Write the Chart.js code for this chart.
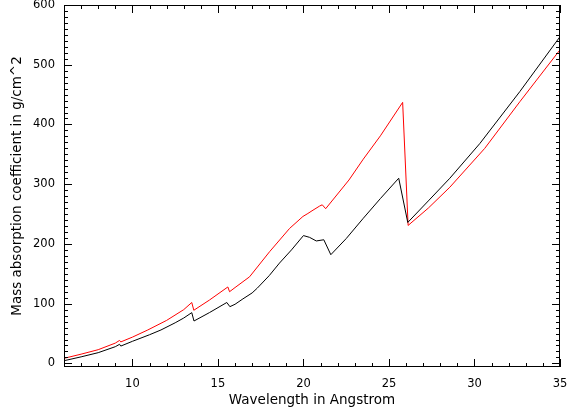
<!DOCTYPE html>
<html>
<head>
<meta charset="utf-8">
<script src="https://cdn.jsdelivr.net/npm/chart.js@4.4.1/dist/chart.umd.min.js"></script>
<style>
  html, body { margin: 0; padding: 0; background: #fff; }
  #wrap { width: 568px; height: 417px; }
</style>
</head>
<body>
<div id="wrap"><canvas id="absChart"></canvas></div>
<script>
// === Data ===
// black curve
const blackWave = [6.0, 7.0, 8.0, 9.0, 9.25, 9.32, 10.0, 11.0, 11.67, 12.5, 13.0, 13.47, 13.6, 14.5, 15.52, 15.7, 16.0, 16.46, 17.0, 17.3, 18.0, 18.6, 19.3, 20.0, 20.36, 20.75, 21.19, 21.6, 22.5, 23.5, 24.5, 25.57, 26.1, 27.3, 28.56, 30.31, 32.65, 35.0];
const blackCoef = [4.5, 11, 18, 28, 32, 29, 37, 48, 56, 68, 76, 85, 71, 85, 102, 95, 99, 108, 118, 126, 147, 168, 190, 214, 211, 205, 207, 182, 209, 243, 276, 310, 236, 272, 310, 368, 455, 547];

// red curve
const redWave = [6.0, 7.0, 8.0, 9.0, 9.25, 9.32, 10.0, 10.9, 12.0, 13.0, 13.47, 13.59, 14.5, 15.58, 15.68, 16.0, 16.85, 18.02, 19.19, 19.97, 20.26, 20.5, 20.95, 21.1, 21.3, 22.66, 23.5, 24.5, 25.8, 26.12, 27.3, 28.56, 30.6, 32.65, 35.0];
const redCoef = [8.5, 15.5, 23, 34, 38.5, 36, 44, 56, 72, 90, 102, 89, 106, 128, 120, 127, 145, 187, 226, 246, 251, 255.5, 263.5, 265.5, 259, 307, 342, 381, 437, 231, 260, 295, 360, 438, 525];

// tick labels
const xTicks = [10, 15, 20, 25, 30, 35];
const yTicks = [0, 100, 200, 300, 400, 500, 600];

const toPoints = (xs, ys) => xs.map((v, i) => ({ x: v, y: ys[i] }));

// IDL-style box with inward major/minor ticks on all four sides
const boxTicks = {
  id: "boxTicks",
  afterDraw(chart) {
    const { ctx, chartArea: a, scales } = chart;
    const sx = scales.x, sy = scales.y;
    ctx.save();
    ctx.strokeStyle = "#000";
    ctx.lineWidth = 1;
    ctx.strokeRect(a.left + 0.5, a.top + 0.5, a.right - a.left - 1, a.bottom - a.top - 1);
    ctx.beginPath();
    // x ticks every 1 unit, major every 5
    for (let v = Math.ceil(sx.min); v <= sx.max; v++) {
      const p = Math.round(sx.getPixelForValue(v)) + 0.5;
      const len = xTicks.includes(v) ? 8 : 4;
      ctx.moveTo(p, a.bottom); ctx.lineTo(p, a.bottom - len);
      ctx.moveTo(p, a.top); ctx.lineTo(p, a.top + len);
    }
    // y ticks every 10, major every 100
    for (let v = 0; v <= sy.max; v += 10) {
      const p = Math.round(sy.getPixelForValue(v)) + 0.5;
      const len = yTicks.includes(v) ? 8 : 4;
      ctx.moveTo(a.left, p); ctx.lineTo(a.left + len, p);
      ctx.moveTo(a.right, p); ctx.lineTo(a.right - len, p);
    }
    ctx.stroke();
    ctx.restore();
  },
};

const ctx = document.getElementById("absChart").getContext("2d");
new Chart(ctx, {
  type: "line",
  data: {
    datasets: [
      {
        data: toPoints(blackWave, blackCoef),
        borderColor: "#000000",
        borderWidth: 1,
        pointRadius: 0,
        tension: 0,
      },
      {
        data: toPoints(redWave, redCoef),
        borderColor: "#ff0000",
        borderWidth: 1,
        pointRadius: 0,
        tension: 0,
      },
    ],
  },
  options: {
    responsive: true,
    maintainAspectRatio: false,
    animation: false,
    events: [],
    layout: { padding: { top: 5, right: 8, left: 0, bottom: 0 }, autoPadding: false },
    plugins: { legend: { display: false }, tooltip: { enabled: false } },
    scales: {
      x: {
        type: "linear",
        min: 6,
        max: 35,
        afterBuildTicks: (s) => { s.ticks = xTicks.map((v) => ({ value: v })); },
        afterFit: (s) => { s.height = 50; s.paddingLeft = 0; s.paddingRight = 0; },
        grid: { display: false, drawTicks: false },
        border: { display: false },
        ticks: { color: "#000", padding: 10, maxRotation: 0, font: { family: "DejaVu Sans", size: 11.5 } },
        title: {
          display: true,
          text: "Wavelength in Angstrom",
          color: "#000",
          padding: { top: 8, bottom: 8 },
          font: { family: "DejaVu Sans", size: 13.5 },
        },
      },
      y: {
        min: -6,
        max: 600,
        afterBuildTicks: (s) => { s.ticks = yTicks.map((v) => ({ value: v })); },
        afterFit: (s) => { s.width = 64; s.paddingTop = 0; s.paddingBottom = 0; },
        grid: { display: false, drawTicks: false },
        border: { display: false },
        ticks: { color: "#000", padding: 9, font: { family: "DejaVu Sans", size: 11.5 } },
        title: {
          display: true,
          text: "Mass absorption coefficient in g/cm^2",
          color: "#000",
          padding: { top: 9, bottom: 9 },
          font: { family: "DejaVu Sans", size: 13.5 },
        },
      },
    },
  },
  plugins: [boxTicks],
});
</script>
</body>
</html>
